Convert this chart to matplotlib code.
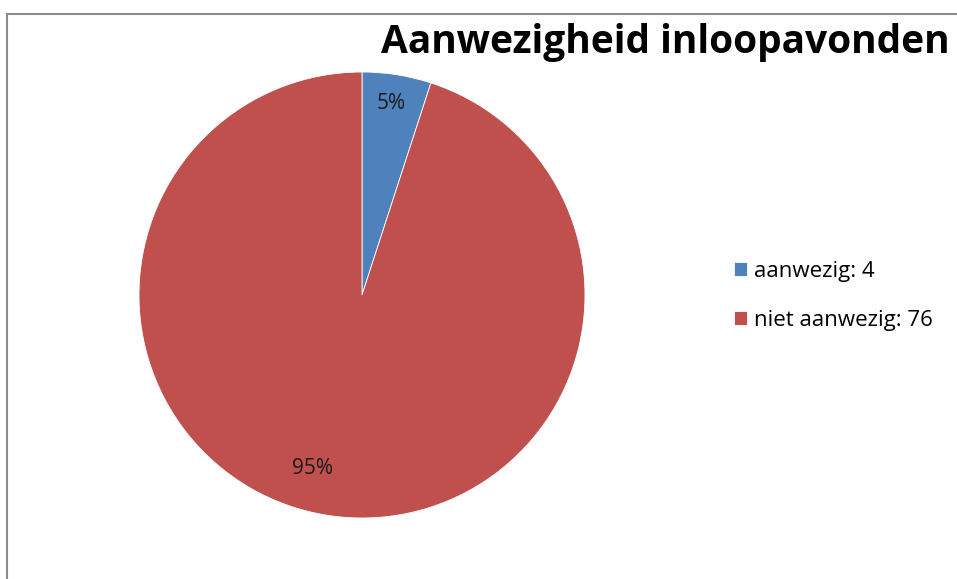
import matplotlib
matplotlib.use("Agg")
import matplotlib.pyplot as plt
from matplotlib.patches import Rectangle

labels = ["aanwezig", "niet aanwezig"]
counts = [4, 76]
colors = ["#4F81BD", "#C0504D"]
title = "Aanwezigheid inloopavonden"

W, H = 957, 579
fig = plt.figure(figsize=(W / 100, H / 100), dpi=100)
plt.rcParams["font.family"] = ["Open Sans", "DejaVu Sans"]

# chart border (right and bottom run off the picture)
fig.patches.append(Rectangle((7 / W, -0.1), 2, (H - 14) / H + 0.1,
                             transform=fig.transFigure, fill=False,
                             edgecolor="#8c8c8c", linewidth=1.5))

ax = fig.add_axes([139 / W, (H - 518) / H, 446 / W, 446 / H])
wedges, texts, autotexts = ax.pie(
    counts, colors=colors, startangle=90, counterclock=False,
    autopct=lambda p: f"{p:.0f}%", pctdistance=0.85,
    wedgeprops=dict(linewidth=0.6, edgecolor="white"),
    textprops=dict(fontsize=15, color="#1a1a1a"))
autotexts[0].set_position((0.13, 0.86))
autotexts[1].set_position((-0.22, -0.78))
ax.set_xlim(-1, 1)
ax.set_ylim(-1, 1)
ax.set_aspect("equal")

fig.text(950 / W, (H - 42) / H, title, fontsize=28, fontweight="bold",
         ha="right", va="center", color="black")

leg_labels = [f"{l}: {c}" for l, c in zip(labels, counts)]
ax.legend(wedges, leg_labels, loc="center left",
          bbox_to_anchor=(714 / W, (H - 296) / H), bbox_transform=fig.transFigure,
          frameon=False, fontsize=16, handlelength=0.6, handleheight=0.6,
          handletextpad=0.3, labelspacing=1.25)

fig.savefig("out.png", dpi=100)
